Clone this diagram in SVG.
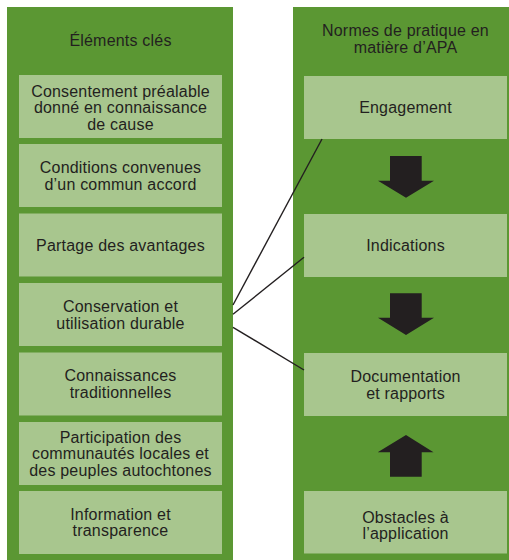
<svg xmlns="http://www.w3.org/2000/svg" width="509" height="560" viewBox="0 0 509 560">
<style>
.col{fill:#5b9733}
.box{fill:#a8c68e}
text{font-family:"Liberation Sans",Arial,Helvetica,sans-serif;font-size:16px;letter-spacing:0.2px;fill:#231f20;text-anchor:middle}
.arrow{fill:#231f20}
.conn{stroke:#231f20;stroke-width:1.4;fill:none}
</style>
<rect width="509" height="560" fill="#ffffff"/>
<g id="col-left"><rect class="col" x="7" y="7" width="226" height="553"/><text x="120.5" y="46">Éléments clés</text></g>
<g id="col-right"><rect class="col" x="293" y="7" width="216" height="553"/><text x="405.5" y="36">Normes de pratique en</text><text x="405.5" y="52.5">matière d’APA</text></g>

<g id="n-consentement"><rect class="box" x="19" y="75" width="203" height="63"/><text x="120.5" y="96.5">Consentement préalable</text><text x="120.5" y="113.2">donné en connaissance</text><text x="120.5" y="129.9">de cause</text></g>
<g id="n-conditions"><rect class="box" x="19" y="144" width="203" height="63"/><text x="120.5" y="173">Conditions convenues</text><text x="120.5" y="189.7">d’un commun accord</text></g>
<g id="n-partage"><rect class="box" x="19" y="213.5" width="203" height="63"/><text x="120.5" y="250.7">Partage des avantages</text></g>
<g id="n-conservation"><rect class="box" x="19" y="283" width="203" height="63"/><text x="120.5" y="311.9">Conservation et</text><text x="120.5" y="328.6">utilisation durable</text></g>
<g id="n-connaissances"><rect class="box" x="19" y="352.5" width="203" height="63"/><text x="120.5" y="381.4">Connaissances</text><text x="120.5" y="398.1">traditionnelles</text></g>
<g id="n-participation"><rect class="box" x="19" y="422" width="203" height="63"/><text x="120.5" y="442.5">Participation des</text><text x="120.5" y="459.2">communautés locales et</text><text x="120.5" y="475.9">des peuples autochtones</text></g>
<g id="n-information"><rect class="box" x="19" y="491" width="203" height="63"/><text x="120.5" y="519.5">Information et</text><text x="120.5" y="536.2">transparence</text></g>

<g id="n-engagement"><rect class="box" x="304" y="76" width="203" height="63"/><text x="405.5" y="113.2">Engagement</text></g>
<g id="n-indications"><rect class="box" x="304" y="214" width="203" height="63"/><text x="405.5" y="251">Indications</text></g>
<g id="n-documentation"><rect class="box" x="304" y="353" width="203" height="63"/><text x="405.5" y="381.8">Documentation</text><text x="405.5" y="398.5">et rapports</text></g>
<g id="n-obstacles"><rect class="box" x="304" y="491" width="203" height="62.5"/><text x="405.5" y="522.5">Obstacles à</text><text x="405.5" y="539.2">l’application</text></g>

<g id="connectors">
<line class="conn" x1="233" y1="305" x2="322" y2="139"/>
<line class="conn" x1="233" y1="314.3" x2="304" y2="257.3"/>
<line class="conn" x1="233" y1="327.3" x2="304" y2="370"/>
<polygon class="arrow" points="390,156 421.7,156 421.7,180.7 434,180.7 406,197.7 378,180.7 390,180.7"/>
<polygon class="arrow" points="390,293.3 421.7,293.3 421.7,317.7 434,317.7 406,335 378,317.7 390,317.7"/>
<polygon class="arrow" points="390,476.7 421.7,476.7 421.7,452.3 433.5,452.3 406,435 377.7,452.3 390,452.3"/>
</g>
</svg>
